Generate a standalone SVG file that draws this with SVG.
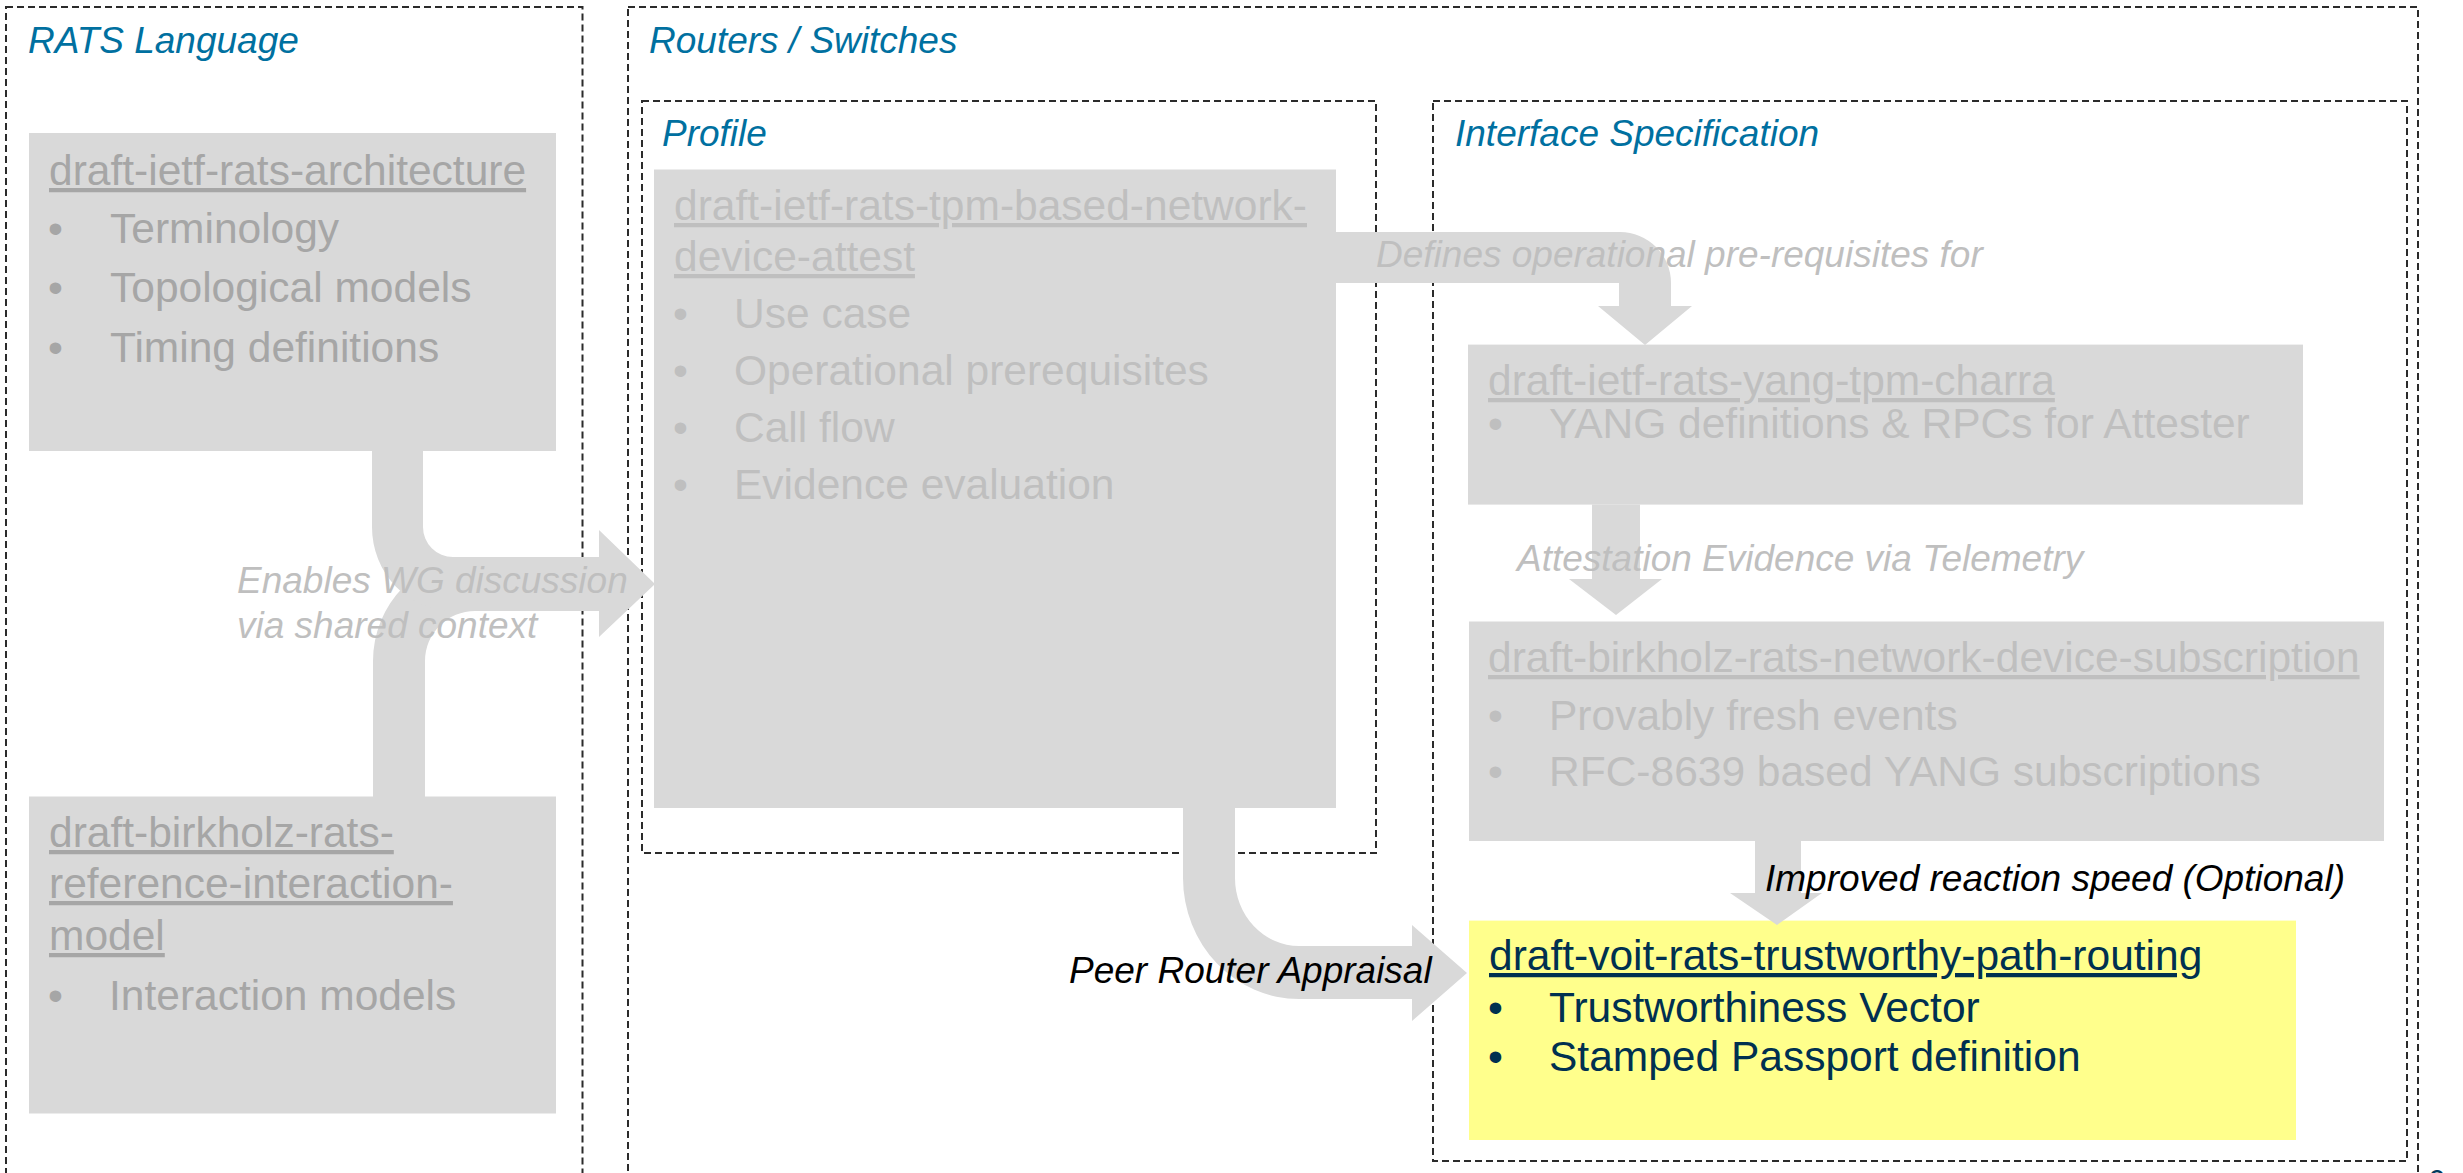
<svg xmlns="http://www.w3.org/2000/svg" width="2463" height="1173" viewBox="0 0 2463 1173">
<style>
.frame{fill:none;stroke:#2b2b2b;stroke-width:2;stroke-dasharray:7 4}
.box{fill:#D9D9D9}
.yel{fill:#FFFF8C}
.conn{fill:#D9D9D9}
.hdr{font-family:"Liberation Sans",Arial,sans-serif;font-style:italic;font-size:37px;fill:#0070A0}
.lbl{font-family:"Liberation Sans",Arial,sans-serif;font-style:italic;font-size:37px;fill:#BFBFBF}
.lblk{font-family:"Liberation Sans",Arial,sans-serif;font-style:italic;font-size:37px;fill:#000000}
.t{font-family:"Liberation Sans",Arial,sans-serif;font-size:42.5px}
.dk{fill:#A6A6A6}
.lt{fill:#BFBFBF}
.nv{fill:#003050}
.u{text-decoration:underline}
</style>
<rect width="2463" height="1173" fill="#FFFFFF"/>

<g id="rats-language">
<rect class="frame" x="6" y="7" width="576.5" height="1190"/>
<text class="hdr" x="28" y="53">RATS Language</text>
</g>
<g id="routers-switches">
<rect class="frame" x="628" y="7" width="1790" height="1190"/>
<text class="hdr" x="649" y="53">Routers / Switches</text>
</g>
<g id="profile">
<rect class="frame" x="642" y="101" width="734" height="752"/>
<text class="hdr" x="662" y="146">Profile</text>
</g>
<g id="interface-specification">
<rect class="frame" x="1433" y="101" width="974" height="1060"/>
<text class="hdr" x="1455" y="146">Interface Specification</text>
</g>

<g id="architecture">
<rect class="box" x="29" y="133" width="527" height="318"/>
<text class="t dk u" x="49" y="185">draft-ietf-rats-architecture</text>
<text class="t dk" x="48" y="243">•</text><text class="t dk" x="110" y="243">Terminology</text>
<text class="t dk" x="48" y="302">•</text><text class="t dk" x="110" y="302">Topological models</text>
<text class="t dk" x="48" y="362">•</text><text class="t dk" x="110" y="362">Timing definitions</text>
</g>

<g id="interaction-model">
<rect class="box" x="29" y="796.5" width="527" height="317"/>
<text class="t dk u" x="49" y="847">draft-birkholz-rats-</text>
<text class="t dk u" x="49" y="898">reference-interaction-</text>
<text class="t dk u" x="49" y="950">model</text>
<text class="t dk" x="48" y="1010">•</text><text class="t dk" x="109" y="1010">Interaction models</text>
</g>

<g id="tpm-based-attest">
<rect class="box" x="654" y="169.5" width="682" height="638.5"/>
<text class="t lt u" x="674" y="220">draft-ietf-rats-tpm-based-network-</text>
<text class="t lt u" x="674" y="271">device-attest</text>
<text class="t lt" x="673" y="328">•</text><text class="t lt" x="734" y="328">Use case</text>
<text class="t lt" x="673" y="385">•</text><text class="t lt" x="734" y="385">Operational prerequisites</text>
<text class="t lt" x="673" y="442">•</text><text class="t lt" x="734" y="442">Call flow</text>
<text class="t lt" x="673" y="499">•</text><text class="t lt" x="734" y="499">Evidence evaluation</text>
</g>

<g id="yang-tpm-charra">
<rect class="box" x="1468" y="344.6" width="835" height="160"/>
<text class="t lt u" x="1488" y="395">draft-ietf-rats-yang-tpm-charra</text>
<text class="t lt" x="1488" y="438">•</text><text class="t lt" x="1549" y="438">YANG definitions &amp; RPCs for Attester</text>
</g>

<g id="device-subscription">
<rect class="box" x="1469" y="621.5" width="915" height="219.5"/>
<text class="t lt u" x="1488" y="672">draft-birkholz-rats-network-device-subscription</text>
<text class="t lt" x="1488" y="730">•</text><text class="t lt" x="1549" y="730">Provably fresh events</text>
<text class="t lt" x="1488" y="786">•</text><text class="t lt" x="1549" y="786">RFC-8639 based YANG subscriptions</text>
</g>

<g id="trustworthy-path-routing">
<rect class="yel" x="1469" y="920.6" width="827" height="219.4"/>
<text class="t nv u" x="1489" y="970">draft-voit-rats-trustworthy-path-routing</text>
<text class="t nv" x="1488" y="1022">•</text><text class="t nv" x="1549" y="1022">Trustworthiness Vector</text>
<text class="t nv" x="1488" y="1071">•</text><text class="t nv" x="1549" y="1071">Stamped Passport definition</text>
</g>

<g id="connectors">
<path class="conn" d="M373,797 V661 A102,104 0 0 1 475,557 H600 V611 H475 A50,50 0 0 0 425,661 V797 Z"/>
<path class="conn" d="M372,451 H423 V527 A30,30 0 0 0 453,557 H599 V530 L655,584 L599,637 V611 H453 A81,84 0 0 1 372,527 Z"/>
<path class="conn" d="M1336,232 H1620 A51,51 0 0 1 1671,283 V306 H1692 L1645,345 L1598,306 H1619 V283 H1336 Z"/>
<path class="conn" d="M1592,504.6 H1640 V579 H1662 L1616,615 L1569,579 H1592 Z"/>
<path class="conn" d="M1755,841 H1801 V893 H1822 L1777,925 L1730,893 H1755 Z"/>
<path class="conn" d="M1183,808 H1235 V878 A64,68 0 0 0 1299,946 H1412 V925 L1467,973 L1412,1021 V999 H1299 A116,121 0 0 1 1183,878 Z"/>
<text class="lbl" x="237" y="593">Enables WG discussion</text>
<text class="lbl" x="237" y="637.5">via shared context</text>
<text class="lbl" x="1376" y="266.5">Defines operational pre-requisites for</text>
<text class="lbl" x="1517" y="571">Attestation Evidence via Telemetry</text>
<text class="lblk" x="1765" y="890.5">Improved reaction speed (Optional)</text>
<text class="lblk" x="1069" y="983">Peer Router Appraisal</text>
</g>

<text x="2428" y="1190" font-family="Liberation Sans, Arial, sans-serif" font-size="30" fill="#003B5C">6</text>
</svg>
